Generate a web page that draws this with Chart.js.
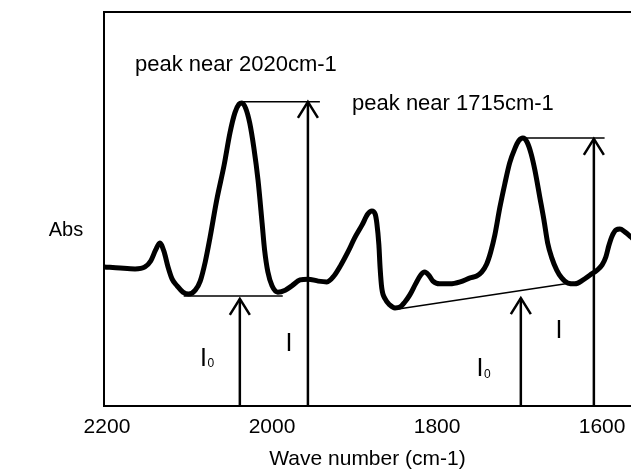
<!DOCTYPE html>
<html>
<head>
<meta charset="utf-8">
<script src="https://cdn.jsdelivr.net/npm/chart.js@4.4.1/dist/chart.umd.min.js"></script>
<style>
  html, body { margin: 0; padding: 0; background: #fff; }
  #wrap { width: 631px; height: 470px; }
</style>
</head>
<body>
<div id="wrap"><canvas id="irChart" width="631" height="470"></canvas></div>
<script>
// Spectrum trace: wave number (cm-1) and absorbance (arbitrary units)
const waveNumbers = [2203, 2184, 2166, 2154, 2147, 2141, 2136, 2131, 2126, 2121, 2115, 2108, 2101, 2093, 2087,
  2081, 2075, 2067, 2058, 2051, 2045, 2040, 2036.5, 2032, 2027, 2022, 2017, 2012, 2009, 2005, 2000, 1993, 1984,
  1976, 1966, 1956.5, 1944, 1933.5, 1925, 1916.5, 1908, 1900, 1891, 1884, 1879, 1875, 1873, 1870.5, 1869, 1867,
  1863, 1857, 1851, 1845, 1839, 1833, 1826, 1820, 1815, 1810, 1805, 1797, 1784.5, 1772, 1760, 1752, 1746, 1740,
  1735, 1730, 1724, 1718, 1712, 1706, 1701, 1696, 1691, 1686, 1681.5, 1675.5, 1670.5, 1666, 1661, 1655, 1649,
  1641.5, 1633, 1623, 1615, 1606, 1600, 1595.5, 1592, 1588, 1583, 1578.5, 1572.5, 1565, 1558];
const absorbance = [35.3, 35.0, 34.8, 35.3, 36.8, 39.6, 41.4, 39.3, 35.3, 32.2, 30.5, 28.9, 28.4, 29.4, 31.7,
  36.5, 42.9, 52.3, 61.2, 69.3, 74.4, 76.6, 76.9, 75.6, 71.8, 65.5, 57.4, 46.4, 39.6, 34.0, 30.5, 28.9, 29.4,
  30.5, 32.0, 32.2, 31.7, 31.5, 33.0, 35.8, 39.1, 42.6, 45.9, 48.7, 49.5, 48.7, 46.4, 40.9, 35.0, 29.9,
  27.2, 25.6, 24.9, 25.1, 26.4, 28.2, 31.0, 33.2, 34.0, 33.2, 31.7, 31.0, 31.0, 31.5, 32.5, 33.0, 34.0, 36.0,
  39.1, 43.4, 50.3, 56.3, 61.7, 65.2, 67.3, 68.0, 67.0, 64.0, 59.9, 53.0, 47.2, 41.4, 37.6, 34.5, 32.5,
  31.2, 31.0, 32.0, 33.2, 34.5, 35.8, 37.8, 40.6, 43.1, 44.7, 44.9, 44.2, 42.9, 41.5];

// x axis ticks
const tickValues = [2200, 2000, 1800, 1600];

// baseline (I0) and peak top (I) guide lines: [x1, y1, x2, y2]
const guideLines = [
  [2107, 27.9, 1987, 27.9],
  [2036.5, 77.2, 1942, 77.2],
  [1847, 24.6, 1638, 31.2],
  [1696, 68.0, 1597, 68.0]
];

// arrows from the axis up to the baseline / peak top
const arrowX = [2039, 1956.5, 1698.5, 1610];
const arrowTop = [27.2, 77.2, 27.4, 67.8];

// labels
const peakLabels = [
  { text: 'peak near 2020cm-1', x: 2166, y: 86.6 },
  { text: 'peak near 1715cm-1', x: 1903, y: 76.6 }
];
const intensityLabels = [
  { text: 'I', sub: '0', x: 2083, y: 11.9 },
  { text: 'I', x: 1979.5, y: 15.7 },
  { text: 'I', sub: '0', x: 1748, y: 9.3 },
  { text: 'I', x: 1652.4, y: 19.0 }
];

const FONT = "'Liberation Sans', Arial, sans-serif";

const spectrum = waveNumbers.map((x, i) => ({ x: x, y: absorbance[i] }));

const datasets = [{
  data: spectrum,
  borderColor: '#000',
  borderWidth: 5,
  pointRadius: 0,
  cubicInterpolationMode: 'monotone',
  fill: false
}];

guideLines.forEach(g => {
  datasets.push({
    data: [{ x: g[0], y: g[1] }, { x: g[2], y: g[3] }],
    borderColor: '#000',
    borderWidth: 1.5,
    pointRadius: 0
  });
});

arrowX.forEach((x, i) => {
  datasets.push({
    data: [{ x: x, y: 0 }, { x: x, y: arrowTop[i] }],
    borderColor: '#000',
    borderWidth: 2.5,
    pointRadius: 0
  });
});

// frame top line, arrow heads and text labels
const decorPlugin = {
  id: 'decor',
  afterDatasetsDraw(chart) {
    const { ctx, chartArea, scales } = chart;
    const xs = scales.x, ys = scales.y;
    ctx.save();
    ctx.strokeStyle = '#000';
    ctx.lineWidth = 2;
    ctx.beginPath();
    ctx.moveTo(chartArea.left - 1, chartArea.top);
    ctx.lineTo(chart.width, chartArea.top);
    ctx.stroke();

    // arrow heads
    ctx.lineWidth = 2.5;
    ctx.lineJoin = 'miter';
    arrowX.forEach((v, i) => {
      const px = xs.getPixelForValue(v);
      const py = ys.getPixelForValue(arrowTop[i]);
      ctx.beginPath();
      ctx.moveTo(px - 10, py + 16);
      ctx.lineTo(px, py);
      ctx.lineTo(px + 10, py + 16);
      ctx.stroke();
    });

    ctx.fillStyle = '#000';
    ctx.textBaseline = 'middle';
    ctx.textAlign = 'left';
    ctx.font = '22px ' + FONT;
    peakLabels.forEach(l => {
      ctx.fillText(l.text, xs.getPixelForValue(l.x), ys.getPixelForValue(l.y));
    });

    intensityLabels.forEach(l => {
      const px = xs.getPixelForValue(l.x), py = ys.getPixelForValue(l.y);
      ctx.font = '25px ' + FONT;
      ctx.textAlign = 'center';
      ctx.fillText(l.text, px, py);
      if (l.sub) {
        ctx.font = '12px ' + FONT;
        ctx.textAlign = 'left';
        ctx.fillText(l.sub, px + 4, py + 5);
      }
    });

    // y axis label
    ctx.font = '20px ' + FONT;
    ctx.textAlign = 'center';
    ctx.fillText('Abs', 66, 230);
    ctx.restore();
  }
};

new Chart(document.getElementById('irChart'), {
  type: 'line',
  data: { datasets: datasets },
  options: {
    responsive: false,
    animation: false,
    devicePixelRatio: 1,
    layout: { padding: { top: 12, left: 0, right: 0, bottom: 0 } },
    plugins: { legend: { display: false }, tooltip: { enabled: false } },
    scales: {
      x: {
        type: 'linear',
        reverse: true,
        min: 1565,
        max: 2203.6,
        afterBuildTicks: scale => { scale.ticks = tickValues.map(v => ({ value: v })); },
        afterFit: scale => { scale.height = 64; },
        grid: { display: false, drawTicks: true, tickLength: 9 },
        border: { display: true, color: '#000', width: 2 },
        ticks: {
          color: '#000',
          padding: 0,
          autoSkip: false,
          maxRotation: 0,
          font: { family: FONT, size: 21 },
          callback: v => String(v)
        },
        title: {
          display: true,
          text: 'Wave number (cm-1)',
          color: '#000',
          font: { family: FONT, size: 21 },
          padding: { top: 0, bottom: -2 }
        }
      },
      y: {
        min: 0,
        max: 100,
        afterFit: scale => { scale.width = 104; },
        grid: { display: false, drawTicks: false },
        border: { display: true, color: '#000', width: 2 },
        ticks: { display: false }
      }
    }
  },
  plugins: [decorPlugin]
});
</script>
</body>
</html>
